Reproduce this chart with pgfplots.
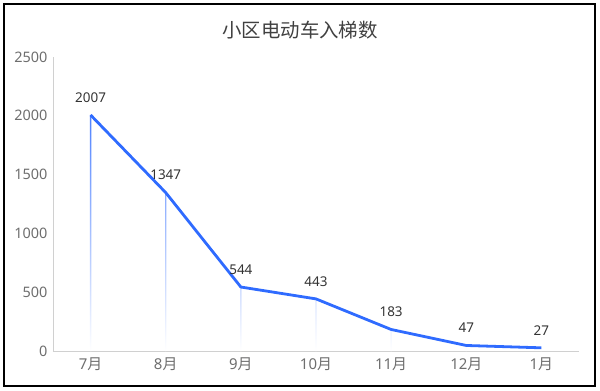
\documentclass[border=0pt]{standalone}
\usepackage{pgfplots}
\pgfplotsset{compat=1.18}
\usepackage{fontspec}
\setmainfont{Noto Sans}
\newfontfamily\cjk{Noto Sans CJK SC}
\definecolor{lineblue}{HTML}{2F6BFF}
\definecolor{tickgray}{HTML}{6E6E6E}
\definecolor{axgray}{HTML}{D0D0D0}
\newcommand\tf{\fontsize{14.5}{17}\selectfont}
\newcommand\xf{\fontsize{15}{17}\selectfont}
\begin{document}
\begin{tikzpicture}
\begin{axis}[
  name=ax,
  scale only axis,
  width=526bp, height=294bp,
  xmin=-0.5, xmax=6.5,
  ymin=0, ymax=2500,
  xtick={0,1,2,3,4,5,6},
  xticklabels={{\xf 7\cjk 月},{\xf 8\cjk 月},{\xf 9\cjk 月},{\xf 10\cjk 月},{\xf 11\cjk 月},{\xf 12\cjk 月},{\xf 1\cjk 月}},
  ytick={0,500,1000,1500,2000,2500},
  yticklabels={{\tf 0},{\tf 500},{\tf 1000},{\tf 1500},{\tf 2000},{\tf 2500}},
  axis x line*=bottom,
  axis y line*=left,
  axis line style={axgray, line width=0.8bp},
  x axis line style={-},
  y axis line style={-},
  major tick length=0pt,
  tick style={draw=none},
  tick label style={text=tickgray},
  xticklabel style={yshift=-3bp},
  yticklabel style={xshift=-2bp},
  clip=false,
]
\addplot[ybar, bar width=1.4bp, draw=none, shading=axis, top color=lineblue!85, middle color=lineblue!50, bottom color=white, forget plot]
  coordinates {(0,2007) (1,1347) (2,544) (3,443) (4,183) (5,47) (6,27)};
\addplot[lineblue, line width=2.8bp, line join=round,
  nodes near coords,
  nodes near coords style={font=\fontsize{13.5}{16}\selectfont, text=black!80, anchor=south, yshift=8bp},
  point meta=explicit symbolic]
  coordinates {(0,2007)[2007] (1,1347)[1347] (2,544)[544] (3,443)[443] (4,183)[183] (5,47)[47] (6,27)[27]};
\end{axis}
\node[font=\cjk\fontsize{19.5}{23}\selectfont, text=black!75] at ([xshift=-16bp,yshift=27bp]ax.north) {小区电动车入梯数};
\draw[line width=1.8bp] ([xshift=-49bp,yshift=-35bp]ax.south west) rectangle ([xshift=16bp,yshift=53bp]ax.north east);
\path ([xshift=-53bp,yshift=-40bp]ax.south west) rectangle ([xshift=21bp,yshift=57bp]ax.north east);
\end{tikzpicture}
\end{document}
